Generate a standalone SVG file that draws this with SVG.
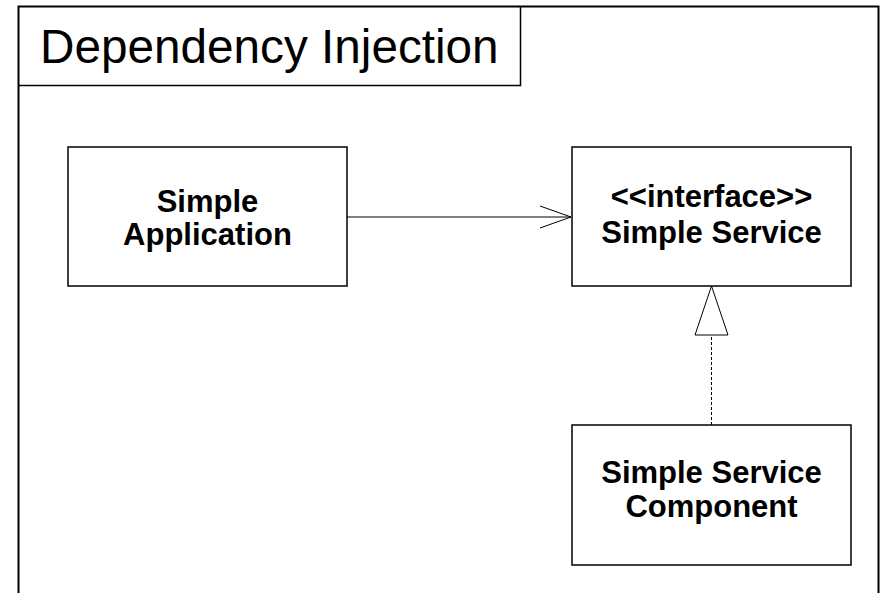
<svg xmlns="http://www.w3.org/2000/svg" width="882" height="593" viewBox="0 0 882 593">
<style>
.box{fill:#fff;stroke:#000;stroke-width:1.5}
.lbl{font-family:"Liberation Sans",Arial,sans-serif;font-weight:bold;font-size:31px;text-anchor:middle;fill:#000}
.title{font-family:"Liberation Sans",Arial,sans-serif;font-size:47.7px;fill:#000}
.conn{fill:none;stroke:#000;stroke-width:1}
</style>
<rect width="882" height="593" fill="#fff"/>
<g id="frame">
<path d="M18.5,593 V6.5 H878.5 V593" fill="none" stroke="#000" stroke-width="2"/>
<path d="M18.5,85.5 H520.5 V6.5" fill="none" stroke="#000" stroke-width="1.5"/>
<text class="title" x="40" y="63">Dependency Injection</text>
</g>
<g id="simple-application">
<rect class="box" x="68" y="147" width="279" height="139"/>
<text class="lbl" x="207.5" y="212">Simple</text>
<text class="lbl" x="207.5" y="245">Application</text>
</g>
<g id="simple-service">
<rect class="box" x="572" y="147" width="279" height="139"/>
<text class="lbl" x="711.5" y="207">&lt;&lt;interface&gt;&gt;</text>
<text class="lbl" x="711.5" y="243">Simple Service</text>
</g>
<g id="simple-service-component">
<rect class="box" x="572" y="425" width="279" height="140"/>
<text class="lbl" x="711.5" y="483">Simple Service</text>
<text class="lbl" x="711.5" y="517">Component</text>
</g>
<g id="connectors">
<path class="conn" d="M347,217 H571"/>
<path class="conn" d="M540,206 L571,217 L540,228"/>
<path class="conn" d="M711.5,425 V335" stroke-dasharray="3,2"/>
<path d="M711.5,286 L695,335 H728 Z" fill="#fff" stroke="#000" stroke-width="1"/>
</g>
</svg>
